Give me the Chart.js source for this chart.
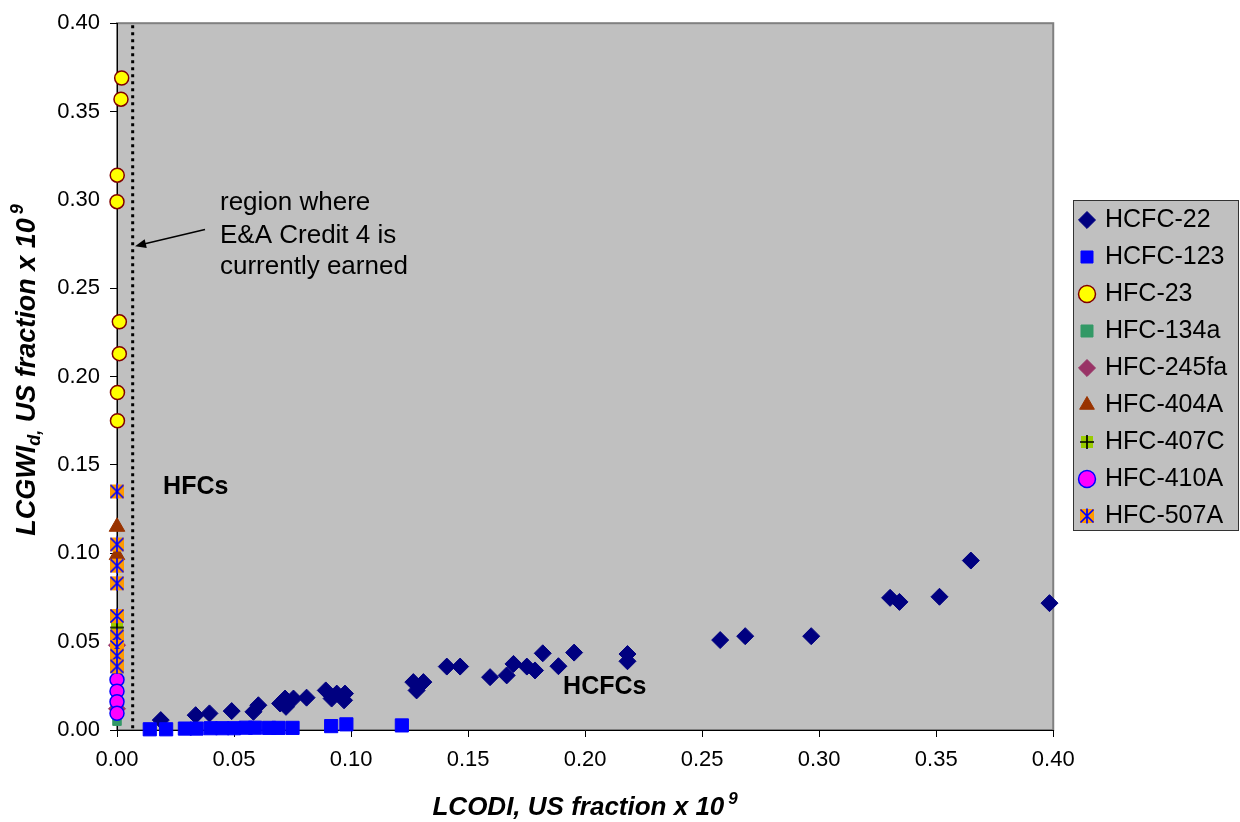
<!DOCTYPE html>
<html>
<head>
<meta charset="utf-8">
<script src="https://cdn.jsdelivr.net/npm/chart.js@4.4.1/dist/chart.umd.min.js"></script>
<style>
  html, body { margin: 0; padding: 0; background: #fff; }
</style>
</head>
<body>
<canvas id="gwpChart" width="1240" height="822"></canvas>
<script>
    // ---- data ----
    const seriesNames = ['HCFC-22', 'HCFC-123', 'HFC-23', 'HFC-134a', 'HFC-245fa', 'HFC-404A', 'HFC-407C', 'HFC-410A', 'HFC-507A'];

    const hcfc22X = [0.0187, 0.0336, 0.0395, 0.049, 0.0583, 0.0604, 0.0697, 0.0718, 0.0722, 0.0754, 0.081, 0.0892, 0.0917, 0.0939, 0.0974, 0.097,
        0.1266, 0.1309, 0.128, 0.1409, 0.1466, 0.1594, 0.1665, 0.1694, 0.1751, 0.1786, 0.1819, 0.1886, 0.1953, 0.2181, 0.2181,
        0.2577, 0.2684, 0.2966, 0.3303, 0.3343, 0.3514, 0.3648, 0.3984];
    const hcfc22Y = [0.0056, 0.0084, 0.0094, 0.0107, 0.0103, 0.014, 0.015, 0.0178, 0.0131, 0.0178, 0.0183, 0.0224, 0.0178, 0.0206, 0.0206, 0.0168,
        0.0271, 0.0271, 0.0224, 0.0359, 0.0359, 0.0299, 0.0309, 0.0374, 0.0359, 0.0337, 0.0434, 0.0361, 0.0438, 0.043, 0.0389,
        0.0509, 0.0531, 0.0531, 0.0748, 0.0725, 0.0754, 0.0959, 0.0718];

    const hcfc123X = [0.014, 0.021, 0.029, 0.034, 0.040, 0.045, 0.050, 0.055, 0.059, 0.065, 0.069, 0.075, 0.0915, 0.098, 0.1217];
    const hcfc123Y = [0.0004, 0.0004, 0.0008, 0.0008, 0.0010, 0.0010, 0.0010, 0.0013, 0.0013, 0.0012, 0.0012, 0.0012, 0.0022, 0.0032, 0.0026];

    const hfc23X = [0.002, 0.0017, 0.0001, 0.0, 0.001, 0.001, 0.0002, 0.0002];
    const hfc23Y = [0.369, 0.357, 0.314, 0.299, 0.231, 0.213, 0.191, 0.175];

    const hfc134aX = [0, 0];
    const hfc134aY = [0.005, 0.031];

    const hfc245faX = [0, 0];
    const hfc245faY = [0.012, 0.048];

    const hfc404aX = [0, 0];
    const hfc404aY = [0.115, 0.099];

    const hfc407cX = [0, 0];
    const hfc407cY = [0.058, 0.039];

    const hfc410aX = [0, 0, 0, 0];
    const hfc410aY = [0.0285, 0.022, 0.016, 0.0095];

    const hfc507aX = [0, 0, 0, 0, 0, 0, 0, 0, 0];
    const hfc507aY = [0.135, 0.105, 0.093, 0.083, 0.0645, 0.053, 0.047, 0.042, 0.036];

    const xTickValues = [0, 0.05, 0.10, 0.15, 0.20, 0.25, 0.30, 0.35, 0.40];
    const xTickLabels = ['0.00', '0.05', '0.10', '0.15', '0.20', '0.25', '0.30', '0.35', '0.40'];
    const yTickValues = [0, 0.05, 0.10, 0.15, 0.20, 0.25, 0.30, 0.35, 0.40];
    const yTickLabels = ['0.00', '0.05', '0.10', '0.15', '0.20', '0.25', '0.30', '0.35', '0.40'];

    const noteLines = ['region where', 'E&A Credit 4 is', 'currently earned'];

    const FONT = '"Liberation Sans", Arial, sans-serif';

    function pairs(xs, ys) {
        return xs.map((x, i) => ({ x: x, y: ys[i] }));
    }

    // orange square with blue asterisk (HFC-507A)
    const mark507 = document.createElement('canvas');
    mark507.width = 16; mark507.height = 16;
    (function () {
        const c = mark507.getContext('2d');
        c.fillStyle = '#FF9900';
        c.fillRect(1, 1, 14, 14);
        c.strokeStyle = '#0000FF';
        c.lineWidth = 1.7;
        c.beginPath();
        c.moveTo(1.5, 1.5); c.lineTo(14.5, 14.5);
        c.moveTo(14.5, 1.5); c.lineTo(1.5, 14.5);
        c.moveTo(8, 0.5); c.lineTo(8, 15.5);
        c.stroke();
    })();

    // yellow-green square with black plus (HFC-407C)
    const mark407 = document.createElement('canvas');
    mark407.width = 14; mark407.height = 14;
    (function () {
        const c = mark407.getContext('2d');
        c.fillStyle = '#99CC00';
        c.fillRect(1, 1, 12, 12);
        c.strokeStyle = '#000';
        c.lineWidth = 1.7;
        c.beginPath();
        c.moveTo(7, 0); c.lineTo(7, 14);
        c.moveTo(0, 7); c.lineTo(14, 7);
        c.stroke();
    })();

    const datasets = [
        { label: seriesNames[0], data: pairs(hcfc22X, hcfc22Y), pointStyle: 'rectRot', pointRadius: 8.5, backgroundColor: '#000080', borderColor: '#000080', borderWidth: 1 },
        { label: seriesNames[1], data: pairs(hcfc123X, hcfc123Y), pointStyle: 'rect', pointRadius: 9.3, backgroundColor: '#0000FF', borderColor: '#0000FF', borderWidth: 1 },
        { label: seriesNames[2], data: pairs(hfc23X, hfc23Y), pointStyle: 'circle', pointRadius: 7, backgroundColor: '#FFFF00', borderColor: '#800000', borderWidth: 1.5 },
        { label: seriesNames[3], data: pairs(hfc134aX, hfc134aY), pointStyle: 'rect', pointRadius: 6, backgroundColor: '#339966', borderColor: '#339966', borderWidth: 1 },
        { label: seriesNames[4], data: pairs(hfc245faX, hfc245faY), pointStyle: 'rectRot', pointRadius: 8.5, backgroundColor: '#993366', borderColor: '#993366', borderWidth: 1 },
        { label: seriesNames[5], data: pairs(hfc404aX, hfc404aY), pointStyle: 'triangle', pointRadius: 9, backgroundColor: '#993300', borderColor: '#993300', borderWidth: 1 },
        { label: seriesNames[6], data: pairs(hfc407cX, hfc407cY), pointStyle: mark407, pointRadius: 7, backgroundColor: '#99CC00', borderColor: '#000', borderWidth: 1 },
        { label: seriesNames[7], data: pairs(hfc410aX, hfc410aY), pointStyle: 'circle', pointRadius: 7, backgroundColor: '#FF00FF', borderColor: '#0000FF', borderWidth: 1.5 },
        { label: seriesNames[8], data: pairs(hfc507aX, hfc507aY), pointStyle: mark507, pointRadius: 8, backgroundColor: '#FF9900', borderColor: '#0000FF', borderWidth: 1 }
    ];
    // later series sit on top, like the original
    datasets.forEach((d, i) => { d.order = datasets.length - i; d.clip = false; d.showLine = false; });

    function drawRich(ctx, parts, cx, baseY) {
        let total = 0;
        parts.forEach(p => {
            ctx.font = 'italic bold ' + p.size + 'px ' + FONT;
            p.w = ctx.measureText(p.text).width;
            total += p.w + (p.gap || 0);
        });
        let x = cx - total / 2;
        ctx.textAlign = 'left';
        ctx.textBaseline = 'alphabetic';
        parts.forEach(p => {
            x += (p.gap || 0);
            ctx.font = 'italic bold ' + p.size + 'px ' + FONT;
            ctx.fillText(p.text, x, baseY + p.dy);
            x += p.w;
        });
    }

    const backdrop = {
        id: 'backdrop',
        beforeDraw(chart) {
            const { ctx, chartArea } = chart;
            ctx.save();
            ctx.fillStyle = '#fff';
            ctx.fillRect(0, 0, chart.width, chart.height);
            ctx.fillStyle = '#C0C0C0';
            ctx.fillRect(chartArea.left, chartArea.top, chartArea.right - chartArea.left, chartArea.bottom - chartArea.top);
            ctx.strokeStyle = '#808080';
            ctx.lineWidth = 2;
            ctx.strokeRect(chartArea.left, chartArea.top, chartArea.right - chartArea.left, chartArea.bottom - chartArea.top);

            // legend frame and placement
            const lg = chart.legend;
            lg.left = 1069.5; lg.right = 1240; lg.top = 195.5; lg.bottom = 822;
            ctx.fillStyle = '#C0C0C0';
            ctx.fillRect(1073, 200, 166, 331);
            ctx.strokeStyle = '#333';
            ctx.lineWidth = 1;
            ctx.strokeRect(1073.5, 200.5, 165, 330);
            ctx.restore();
        }
    };

    const notes = {
        id: 'notes',
        afterDatasetsDraw(chart) {
            const { ctx, chartArea } = chart;
            const xs = chart.scales.x, ys = chart.scales.y;
            const px = v => xs.getPixelForValue(v), py = v => ys.getPixelForValue(v);
            ctx.save();

            // dotted boundary line
            const lx = px(0.0067);
            ctx.strokeStyle = '#000';
            ctx.lineWidth = 3;
            ctx.setLineDash([3, 4]);
            ctx.beginPath();
            ctx.moveTo(lx, chartArea.top + 2);
            ctx.lineTo(lx, chartArea.bottom);
            ctx.stroke();
            ctx.setLineDash([]);

            // arrow
            const ax0 = px(0.0376), ay0 = py(0.2832), ax1 = px(0.0077), ay1 = py(0.2738);
            const ang = Math.atan2(ay1 - ay0, ax1 - ax0);
            ctx.lineWidth = 1.5;
            ctx.beginPath();
            ctx.moveTo(ax0, ay0);
            ctx.lineTo(ax1 - 8 * Math.cos(ang), ay1 - 8 * Math.sin(ang));
            ctx.stroke();
            ctx.fillStyle = '#000';
            ctx.beginPath();
            ctx.moveTo(ax1, ay1);
            ctx.lineTo(ax1 - 11 * Math.cos(ang) + 4.5 * Math.sin(ang), ay1 - 11 * Math.sin(ang) - 4.5 * Math.cos(ang));
            ctx.lineTo(ax1 - 11 * Math.cos(ang) - 4.5 * Math.sin(ang), ay1 - 11 * Math.sin(ang) + 4.5 * Math.cos(ang));
            ctx.closePath();
            ctx.fill();

            // note text
            ctx.textAlign = 'left';
            ctx.textBaseline = 'middle';
            ctx.font = '26px ' + FONT;
            const noteY = [0.2985, 0.2796, 0.262];
            noteLines.forEach((t, i) => ctx.fillText(t, px(0.044), py(noteY[i])));

            ctx.font = 'bold 25px ' + FONT;
            ctx.fillText('HFCs', px(0.0197), py(0.1374));
            ctx.fillText('HCFCs', px(0.1906), py(0.0243));

            // axis titles
            drawRich(ctx, [
                { text: 'LCODI, US fraction x 10', size: 26, dy: 0 },
                { text: '9', size: 17, dy: -11, gap: 4 }
            ], (chartArea.left + chartArea.right) / 2, 815);

            ctx.translate(35, 370);
            ctx.rotate(-Math.PI / 2);
            drawRich(ctx, [
                { text: 'LCGWI', size: 27, dy: 0 },
                { text: 'd,', size: 18, dy: 5 },
                { text: ' US fraction x 10', size: 27, dy: 0 },
                { text: '9', size: 18, dy: -12, gap: 4 }
            ], 0, 0);
            ctx.restore();
        }
    };

    const ctx = document.getElementById('gwpChart').getContext('2d');
    new Chart(ctx, {
        type: 'scatter',
        data: { datasets: datasets },
        options: {
            responsive: false,
            animation: false,
            devicePixelRatio: 1,
            layout: { padding: { top: 17, right: 19, bottom: 0, left: 0 } },
            scales: {
                x: {
                    type: 'linear',
                    min: 0,
                    max: 0.4,
                    afterBuildTicks: s => { s.ticks = xTickValues.map(v => ({ value: v })); },
                    afterFit: s => { s.height = 92; },
                    grid: { drawOnChartArea: false, drawTicks: true, tickLength: 7, tickColor: '#000', color: '#000' },
                    border: { display: true, color: '#000', width: 1 },
                    ticks: {
                        color: '#000',
                        padding: 10,
                        maxRotation: 0,
                        autoSkip: false,
                        font: { family: FONT, size: 22 },
                        callback: (v, i) => xTickLabels[i]
                    }
                },
                y: {
                    type: 'linear',
                    min: 0,
                    max: 0.4,
                    afterBuildTicks: s => { s.ticks = yTickValues.map(v => ({ value: v })); },
                    afterFit: s => { s.width = 117; },
                    grid: { drawOnChartArea: false, drawTicks: true, tickLength: 7, tickColor: '#000', color: '#000' },
                    border: { display: true, color: '#000', width: 1 },
                    ticks: {
                        color: '#000',
                        padding: 10,
                        autoSkip: false,
                        font: { family: FONT, size: 22 },
                        callback: (v, i) => yTickLabels[i]
                    }
                }
            },
            plugins: {
                legend: {
                    position: 'right',
                    align: 'start',
                    reverse: true,
                    labels: {
                        usePointStyle: true,
                        boxWidth: 11,
                        boxHeight: 12,
                        padding: 12,
                        color: '#000',
                        font: { family: FONT, size: 25 }
                    }
                },
                tooltip: { enabled: false }
            }
        },
        plugins: [backdrop, notes]
    });
</script>
</body>
</html>
